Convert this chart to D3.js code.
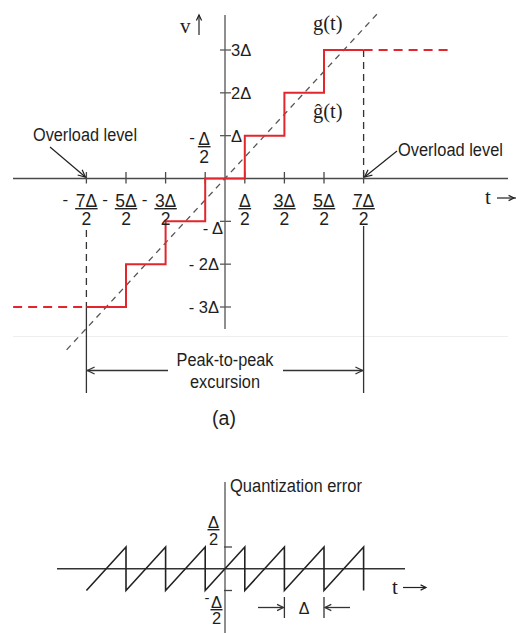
<!DOCTYPE html>
<html>
<head>
<meta charset="utf-8">
<script src="https://cdn.jsdelivr.net/npm/d3@7/dist/d3.min.js"></script>
<style>
  html, body { margin: 0; padding: 0; background: #fff; }
  svg { display: block; }
  .sans { font-family: "Liberation Sans", Arial, sans-serif; fill: #1e1e1e; }
  .serif { font-family: "Liberation Serif", "Times New Roman", serif; fill: #1e1e1e; }
</style>
</head>
<body>
<div id="chart"></div>
<script>
// Uniform mid-tread quantizer: decision thresholds (in units of Δ) and output levels
const stepEdges = [-3.5, -2.5, -1.5, -0.5, 0.5, 1.5, 2.5, 3.5];
const stepLevels = [-3, -2, -1, 0, 1, 2, 3];
// Saturated output beyond the overload level (t range of the dashed extensions)
const overloadSpan = [-5.35, 5.68];
// Input signal g(t) = t, drawn over this range
const inputSpan = [-4, 3.85];

// Tick values and labels
const xTickValues = [-3.5, -2.5, -1.5, -0.5, 0.5, 1.5, 2.5, 3.5];
const xTickNumerators = ["7Δ", "5Δ", "3Δ", "Δ", "Δ", "3Δ", "5Δ", "7Δ"];
const xTickSigns = ["-", "-", "-", "-", "", "", "", ""];
const yTickValues = [3, 2, 1, -1, -2, -3];
const yTickLabels = ["3Δ", "2Δ", "Δ", "- Δ", "- 2Δ", "- 3Δ"];
const errTickValues = [0.5, -0.5];

const W = 516, H = 633;
const svg = d3.select("#chart").append("svg").attr("width", W).attr("height", H);

const x = d3.scaleLinear().domain([-3.5, 3.5]).range([86.4, 363.6]);
const y = d3.scaleLinear().domain([-3, 3]).range([307, 50]);
const ye = d3.scaleLinear().domain([-0.5, 0.5]).range([590.5, 547]);

const x0 = x(0), y0 = y(0), ye0 = ye(0);

function line(g, x1, y1, x2, y2, color, width, dash) {
  const l = g.append("line").attr("x1", x1).attr("y1", y1).attr("x2", x2).attr("y2", y2)
    .attr("stroke", color).attr("stroke-width", width);
  if (dash) l.attr("stroke-dasharray", dash);
  return l;
}
// open chevron arrowhead with its tip at (tx, ty), pointing along (dx, dy)
function arrowHead(g, tx, ty, dx, dy, len, color, width) {
  const a = Math.atan2(dy, dx), s = 0.45;
  const p = [
    [tx - len * Math.cos(a - s), ty - len * Math.sin(a - s)],
    [tx, ty],
    [tx - len * Math.cos(a + s), ty - len * Math.sin(a + s)]
  ];
  g.append("path").attr("d", d3.line()(p)).attr("fill", "none")
    .attr("stroke", color).attr("stroke-width", width);
}
function text(g, cls, tx, ty, str, size, anchor) {
  return g.append("text").attr("class", cls).attr("x", tx).attr("y", ty)
    .attr("font-size", size).attr("text-anchor", anchor || "start").text(str);
}
// stacked fraction: numerator, bar, denominator centred on cx
function frac(g, cx, base, num, den, size, gap) {
  const n = text(g, "sans", cx, base, num, size, "middle");
  const w = n.node().getComputedTextLength();
  line(g, cx - w / 2 - 0.5, base + 2.2, cx + w / 2 + 0.5, base + 2.2, "#222", 1.4);
  text(g, "sans", cx, base + gap, den, size, "middle");
}

const gTop = svg.append("g");

// faint separator rule under the upper panel
line(gTop, 13, 336.5, 508, 336.5, "#eeeeee", 1);

// axes
line(gTop, 13, y0, 508, y0, "#4a4a4a", 1.5);
line(gTop, x0, 15, x0, 329, "#6a6a6a", 1.5);

// x ticks
xTickValues.forEach(v => line(gTop, x(v), y0 - 6.5, x(v), y0 + 5, "#4a4a4a", 1.3));
// y ticks
yTickValues.forEach(v => line(gTop, x0 - 5, y(v), x0 + 6, y(v), "#5a5a5a", 1.3));

// input g(t) = t
gTop.append("path")
  .attr("d", d3.line().x(d => x(d)).y(d => y(d))(inputSpan))
  .attr("fill", "none").attr("stroke", "#555").attr("stroke-width", 1.3)
  .attr("stroke-dasharray", "6,5");

// overload verticals
const tMax = stepEdges[stepEdges.length - 1], tMin = stepEdges[0];
line(gTop, x(tMax), y(3), x(tMax), y0, "#333", 1.3, "7,5");
line(gTop, x(tMin), 230, x(tMin), y(-3), "#333", 1.3, "7,5");
line(gTop, x(tMin), y(-3), x(tMin), 393, "#333", 1.3);
line(gTop, x(tMax), 226, x(tMax), 393, "#333", 1.3);

// quantizer output staircase
const stairPts = stepLevels.map((l, i) => [stepEdges[i], l]);
stairPts.push([tMax, stepLevels[stepLevels.length - 1]]);
gTop.append("path")
  .attr("d", d3.line().x(d => x(d[0])).y(d => y(d[1])).curve(d3.curveStepAfter)(stairPts))
  .attr("fill", "none").attr("stroke", "#e3262b").attr("stroke-width", 2);
// saturated output
line(gTop, x(tMax), y(3), x(overloadSpan[1]), y(3), "#e3262b", 2, "9,6");
line(gTop, x(overloadSpan[0]), y(-3), x(tMin), y(-3), "#e3262b", 2, "9,6");

// x tick labels (fractions of Δ/2)
xTickValues.forEach((v, i) => {
  if (v === -0.5) return;
  frac(gTop, x(v), 206.5, xTickNumerators[i], "2", 17.5, 18.5);
  if (xTickSigns[i]) text(gTop, "sans", x(v) - 21, 205, xTickSigns[i], 17, "middle");
});
// -Δ/2 label sits above the axis, beside the vertical axis
frac(gTop, x(-0.5) - 1, 144.5, xTickNumerators[3], "2", 17.5, 18.5);
text(gTop, "sans", x(-0.5) - 13, 143, "-", 17, "middle");

// y tick labels
yTickValues.forEach((v, i) => {
  if (v > 0) text(gTop, "sans", x0 + 6, y(v) + 6, yTickLabels[i], 16.5, "start");
  else if (v === -1) text(gTop, "sans", x0 - 2, y(v) + 13, yTickLabels[i], 16.5, "end");
  else text(gTop, "sans", x0 - 6, y(v) + 6, yTickLabels[i], 16.5, "end");
});

// axis names
text(gTop, "serif", 180, 33, "v", 21);
line(gTop, 199, 35, 199, 15, "#222", 1.2);
arrowHead(gTop, 199, 15, 0, -1, 6, "#222", 1.2);
text(gTop, "serif", 485, 204, "t", 21);
line(gTop, 497, 198, 516, 198, "#222", 1.2);
arrowHead(gTop, 514, 198, 1, 0, 6, "#222", 1.2);

// curve labels
text(gTop, "serif", 313, 30, "g(t)", 20.5);
text(gTop, "serif", 313, 118, "ĝ(t)", 20.5);

// overload annotations
text(gTop, "sans", 33, 141, "Overload level", 18).attr("textLength", 104).attr("lengthAdjust", "spacingAndGlyphs");
line(gTop, 50, 147, x(tMin) - 1, 177, "#222", 1.2);
arrowHead(gTop, x(tMin) - 1, 177, x(tMin) - 51, 30, 8, "#222", 1.2);
text(gTop, "sans", 398, 156, "Overload level", 18).attr("textLength", 105).attr("lengthAdjust", "spacingAndGlyphs");
line(gTop, 397, 151, x(tMax) + 1, 177, "#222", 1.2);
arrowHead(gTop, x(tMax) + 1, 177, x(tMax) - 396, 26, 8, "#222", 1.2);

// peak-to-peak excursion
line(gTop, x(tMin), 370.5, 168, 370.5, "#333", 1.3);
line(gTop, 283, 370.5, x(tMax), 370.5, "#333", 1.3);
arrowHead(gTop, x(tMin) + 1, 370.5, -1, 0, 8, "#333", 1.3);
arrowHead(gTop, x(tMax) - 1, 370.5, 1, 0, 8, "#333", 1.3);
text(gTop, "sans", (x(tMin) + x(tMax)) / 2, 366, "Peak-to-peak", 17.5).attr("text-anchor", "middle")
  .attr("textLength", 97).attr("lengthAdjust", "spacingAndGlyphs");
text(gTop, "sans", (x(tMin) + x(tMax)) / 2, 388, "excursion", 17.5).attr("text-anchor", "middle")
  .attr("textLength", 70).attr("lengthAdjust", "spacingAndGlyphs");

text(gTop, "sans", 224, 425, "(a)", 19.5, "middle");

// ---- quantization error panel ----
const gBot = svg.append("g");
line(gBot, 57, ye0, 405, ye0, "#333", 1.5);
line(gBot, x0, 482, x0, 633, "#6a6a6a", 1.5);
errTickValues.forEach(v => line(gBot, x0 - 1, ye(v), x0 + 7, ye(v), "#444", 1.3));

// error e(t) = t - ĝ(t) over each quantizer interval
const errPts = [];
stepLevels.forEach((l, i) => {
  errPts.push([stepEdges[i], stepEdges[i] - l]);
  errPts.push([stepEdges[i + 1], stepEdges[i + 1] - l]);
});
errPts.push([tMax, tMax - (stepLevels[stepLevels.length - 1] + 1)]);
gBot.append("path")
  .attr("d", d3.line().x(d => x(d[0])).y(d => ye(d[1]))(errPts))
  .attr("fill", "none").attr("stroke", "#222").attr("stroke-width", 1.6);

text(gBot, "sans", 230, 491.5, "Quantization error", 18).attr("textLength", 132).attr("lengthAdjust", "spacingAndGlyphs");
frac(gBot, 213.5, 527.5, "Δ", "2", 16.5, 17.5);
frac(gBot, 216.5, 607.5, "Δ", "2", 16.5, 16.5);
text(gBot, "sans", 207, 603, "-", 15, "middle");

text(gBot, "serif", 392, 594, "t", 21);
line(gBot, 403, 587.5, 426, 587.5, "#222", 1.2);
arrowHead(gBot, 426, 587.5, 1, 0, 6, "#222", 1.2);

// one-step spacing Δ
const d1 = x(1.5), d2 = x(2.5);
line(gBot, d1, 597, d1, 618, "#333", 1.3);
line(gBot, d2, 597, d2, 618, "#333", 1.3);
line(gBot, 258, 607.5, d1 - 1, 607.5, "#333", 1.3);
arrowHead(gBot, d1 - 1, 607.5, 1, 0, 7, "#333", 1.3);
line(gBot, d2 + 1, 607.5, 350, 607.5, "#333", 1.3);
arrowHead(gBot, d2 + 1, 607.5, -1, 0, 7, "#333", 1.3);
text(gBot, "sans", (d1 + d2) / 2, 613.5, "Δ", 16, "middle");
</script>
</body>
</html>
